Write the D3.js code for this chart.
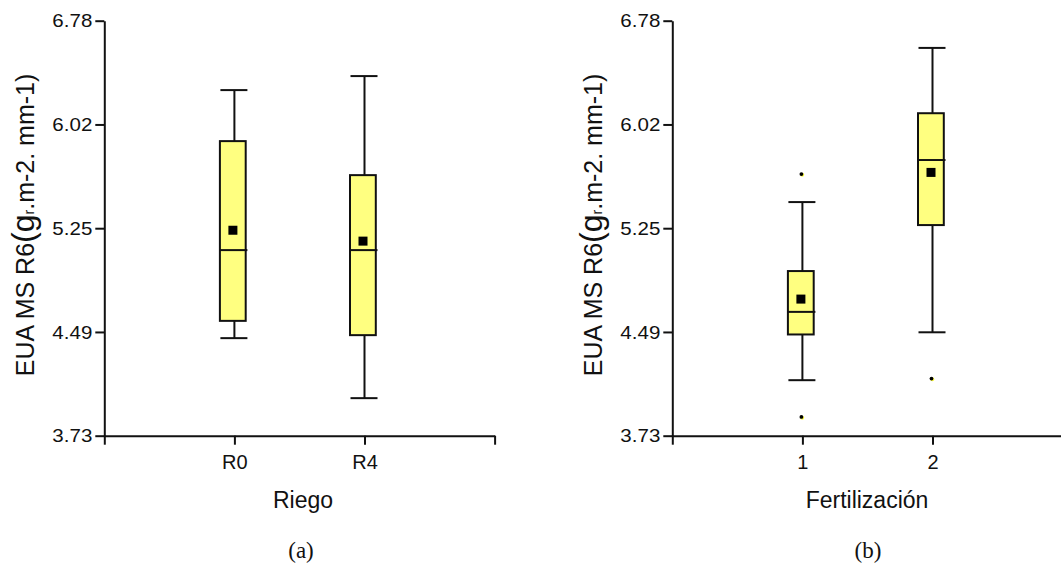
<!DOCTYPE html>
<html><head><meta charset="utf-8">
<script src="https://cdn.jsdelivr.net/npm/d3@7/dist/d3.min.js"></script>
<style>
body{margin:0;background:#fff;}
svg{display:block;font-family:"Liberation Sans",Arial,sans-serif;}
</style></head>
<body><svg id="chart" width="1061" height="569"></svg>
<script>
// ---- data ----
const yTickValues = [3.73, 4.4925, 5.255, 6.0175, 6.78];
const yTickLabels = ["3.73", "4.49", "5.25", "6.02", "6.78"];

const riegoCategories = ["R0", "R4"];
const riegoWhiskerLow = [4.447, 4.006];
const riegoQ1 = [4.574, 4.469];
const riegoMedian = [5.094, 5.094];
const riegoQ3 = [5.895, 5.645];
const riegoWhiskerHigh = [6.27, 6.373];
const riegoMean = [5.24, 5.16];
const riegoOutliers = [[], []];

const fertCategories = ["1", "2"];
const fertWhiskerLow = [4.138, 4.49];
const fertQ1 = [4.474, 5.278];
const fertMedian = [4.64, 5.756];
const fertQ3 = [4.94, 6.10];
const fertWhiskerHigh = [5.447, 6.58];
const fertMean = [4.734, 5.665];
const fertOutliers = [[5.653, 3.868], [4.15]];

const panels = [
  {cats: riegoCategories, lo: riegoWhiskerLow, q1: riegoQ1, med: riegoMedian, q3: riegoQ3, hi: riegoWhiskerHigh, mean: riegoMean, out: riegoOutliers,
   xTitle: "Riego", caption: "(a)", x0: 104.3, captionX: 301, titleX: 303},
  {cats: fertCategories, lo: fertWhiskerLow, q1: fertQ1, med: fertMedian, q3: fertQ3, hi: fertWhiskerHigh, mean: fertMean, out: fertOutliers,
   xTitle: "Fertilización", caption: "(b)", x0: 672.3, captionX: 868, titleX: 867}
];

const svg = d3.select("#chart");
const yTop = 20.7, yBot = 435.7, step = 130.1;
const y = d3.scaleLinear().domain([3.73, 6.78]).range([yBot, yTop]);
const fill = "#ffff80";
const ink = "#111";

function stretch(sel, k) {
  sel.each(function () {
    const w = this.getComputedTextLength();
    d3.select(this).attr("textLength", w * k).attr("lengthAdjust", "spacingAndGlyphs");
  });
}

panels.forEach(p => {
  const g = svg.append("g");
  const x = d3.scaleLinear().domain([0, 3]).range([p.x0, p.x0 + 3 * step]);
  const xLabels = ["", ...p.cats, ""];

  // y axis
  const ya = g.append("g").attr("transform", `translate(${p.x0},0)`)
    .call(d3.axisLeft(y).tickValues(yTickValues).tickFormat((d, i) => yTickLabels[i]).tickSize(9).tickPadding(3).tickSizeOuter(0));
  ya.select(".domain").attr("stroke-width", 2).attr("stroke", ink);
  ya.selectAll(".tick line").attr("stroke-width", 2).attr("stroke", ink);
  const yt = ya.selectAll(".tick text").style("font-size", "19px").style("font-family", "Liberation Sans, Arial, sans-serif").attr("fill", ink);
  stretch(yt, 1.08);

  // x axis
  const xa = g.append("g").attr("transform", `translate(0,${yBot})`)
    .call(d3.axisBottom(x).tickValues([0, 1, 2, 3]).tickFormat((d, i) => xLabels[i]).tickSize(9).tickPadding(10).tickSizeOuter(0));
  xa.select(".domain").attr("stroke-width", 2).attr("stroke", ink);
  xa.selectAll(".tick line").attr("stroke-width", 2).attr("stroke", ink);
  xa.selectAll(".tick text").style("font-size", "20px").style("font-family", "Liberation Sans, Arial, sans-serif").attr("fill", ink);

  // boxes
  p.cats.forEach((c, i) => {
    const cx = x(i + 1);
    const bl = cx - 14.5, br = cx + 11.3;
    g.append("line").attr("x1", cx).attr("x2", cx).attr("y1", y(p.hi[i])).attr("y2", y(p.q3[i])).attr("stroke", ink).attr("stroke-width", 2);
    g.append("line").attr("x1", cx).attr("x2", cx).attr("y1", y(p.q1[i])).attr("y2", y(p.lo[i])).attr("stroke", ink).attr("stroke-width", 2);
    [p.hi[i], p.lo[i]].forEach(v => {
      g.append("line").attr("x1", cx - 14).attr("x2", cx + 13).attr("y1", y(v)).attr("y2", y(v)).attr("stroke", ink).attr("stroke-width", 2);
    });
    g.append("rect").attr("x", bl).attr("width", br - bl).attr("y", y(p.q3[i])).attr("height", y(p.q1[i]) - y(p.q3[i]))
      .attr("fill", fill).attr("stroke", ink).attr("stroke-width", 2);
    g.append("line").attr("x1", bl).attr("x2", cx + 13).attr("y1", y(p.med[i])).attr("y2", y(p.med[i])).attr("stroke", ink).attr("stroke-width", 2);
    g.append("rect").attr("x", cx - 1.5 - 4.5).attr("y", y(p.mean[i]) - 4.5).attr("width", 9).attr("height", 9).attr("fill", "#000");
    p.out[i].forEach(v => {
      g.append("circle").attr("cx", cx - 1 + 0.8).attr("cy", y(v) + 0.8).attr("r", 2).attr("fill", "#ffff40");
      g.append("circle").attr("cx", cx - 1).attr("cy", y(v)).attr("r", 1.9).attr("fill", "#000");
    });
  });

  // x title
  g.append("text").attr("x", p.titleX).attr("y", 508).attr("text-anchor", "middle").style("font-size", "23px").attr("fill", ink).text(p.xTitle);
  // caption
  g.append("text").attr("x", p.captionX).attr("y", 558).attr("text-anchor", "middle").style("font-size", "23px")
    .style("font-family", "Liberation Serif, Times New Roman, serif").attr("fill", ink).text(p.caption);

  // y title
  const tx = p.x0 - 70.5, ty = 225;
  const t = g.append("text").attr("transform", `translate(${tx},${ty}) rotate(-90)`).attr("text-anchor", "middle").attr("fill", ink);
  t.append("tspan").style("font-size", "25px").text("EUA MS R6");
  t.append("tspan").style("font-size", "32px").text("(g");
  t.append("tspan").style("font-size", "14px").text("r");
  t.append("tspan").style("font-size", "25px").text(".m-2. mm-1)");
});
</script></body></html>
